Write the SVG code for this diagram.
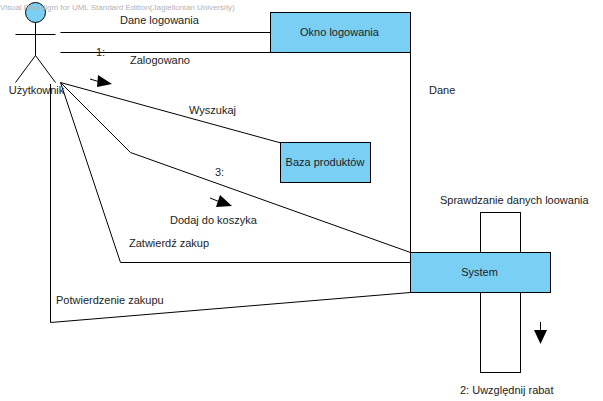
<svg xmlns="http://www.w3.org/2000/svg" width="603" height="401" viewBox="0 0 603 401">
<style>
text{font-family:"Liberation Sans",Arial,sans-serif;font-size:11px;fill:#222}
.c{text-anchor:middle}
.l{fill:none;stroke:#000;stroke-width:1}
.n{fill:#7acff5;stroke:#000;stroke-width:1}
.a{fill:#000;stroke:none}
</style>
<rect width="603" height="401" fill="#fff"/>
<g id="connectors">
<path class="l" d="M60.500 32.500H270.500"/>
<path class="l" d="M60.500 52.500H410.500V252.500"/>
<path class="l" d="M60.500 82.500L281 143"/>
<path class="l" d="M60.500 82.500L130.500 152.500L410.500 252.500"/>
<path class="l" d="M60.500 82.500L120.500 262.500H410.500"/>
<path class="l" d="M50.500 84V322.500L410.500 292.500"/>
</g>
<g id="actor">
<circle class="n" cx="35.500" cy="12.500" r="10"/>
<path class="l" d="M35.500 22.500V55.500M15.500 34.500H55.500M35.500 55.500L15.500 82.500M35.500 55.500L55.500 82.500"/>
<text class="c" x="36.500" y="94">Użytkownik</text>
</g>
<text x="0" y="10" style="font-size:8px;fill:#b4b4b4">Visual Paradigm for UML Standard Edition(Jagiellonian University)</text>
<g id="okno"><rect class="n" x="270.500" y="12.500" width="140" height="40"/><text class="c" x="339.500" y="36">Okno logowania</text></g>
<g id="baza"><rect class="n" x="280.500" y="142.500" width="90" height="40"/><text class="c" x="325" y="166">Baza produktów</text></g>
<g id="activation"><rect x="480.500" y="212.500" width="40" height="160" fill="#fff" stroke="#000"/></g>
<g id="system"><rect class="n" x="410.500" y="252.500" width="140" height="40"/><text class="c" x="479.500" y="276">System</text></g>
<g id="labels">
<text x="120" y="24">Dane logowania</text>
<text x="96" y="56">1:</text>
<text x="130" y="64">Zalogowano</text>
<text x="189" y="114">Wyszukaj</text>
<text x="429" y="94">Dane</text>
<text x="215" y="176">3:</text>
<text x="170" y="224">Dodaj do koszyka</text>
<text x="129" y="247">Zatwierdź zakup</text>
<text x="56" y="304">Potwierdzenie zakupu</text>
<text x="440" y="204">Sprawdzanie danych loowania</text>
<text x="460" y="394">2: Uwzględnij rabat</text>
</g>
<g id="arrows">
<path class="l" d="M90 79L100 82"/><path class="a" d="M98 75L112 84L97 87Z"/>
<path class="l" d="M210 198L220 202"/><path class="a" d="M220 195L232 206L216 207Z"/>
<path class="l" d="M540.500 322V332"/><path class="a" d="M534 330H547L540.500 344Z"/>
</g>
</svg>
